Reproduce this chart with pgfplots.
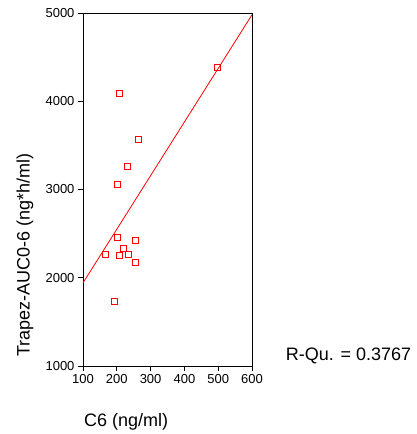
\documentclass[border=0pt]{standalone}
\usepackage{fontspec}
\setmainfont{Liberation Sans}
\usepackage{pgfplots}
\pgfplotsset{compat=1.18}
\begin{document}
\begin{tikzpicture}
\useasboundingbox (-83pt,-68pt) rectangle (333pt,366pt);
\begin{axis}[
  at={(0pt,0pt)}, anchor=south west,
  scale only axis, width=169pt, height=353pt,
  xmin=100, xmax=600, ymin=1000, ymax=5000,
  xtick={100,200,...,600}, ytick={1000,2000,...,5000},
  tick align=outside, tick pos=left, major tick length=5pt,
  axis line style={line width=0.9pt, black},
  every tick/.style={black, line width=0.9pt},
  /pgf/number format/assume math mode=true,
  /pgf/number format/set thousands separator={},
  tick label style={font=\fontsize{13}{15}\selectfont},
  clip=false,
]
% observed C6 vs AUC values
\addplot[only marks, mark=square, red, mark size=3pt,
  mark options={line width=0.8pt}] table {
x y
498 4383
208 4087
264 3565
230 3259
202 3059
201 2453
255 2427
219 2333
167 2268
208 2253
233 2268
255 2174
194 1731
};
% linear fit
\addplot[red, line width=0.8pt] coordinates {(100,1942) (600,4980)};
\end{axis}
\node[rotate=90, font=\fontsize{18}{20}\selectfont] at (-58pt,111pt) {Trapez-AUC0-6 (ng*h/ml)};
\node[anchor=west, inner sep=0pt, font=\fontsize{18}{20}\selectfont] at (1pt,-55.7pt) {C6 (ng/ml)};
\node[anchor=west, inner sep=0pt, font=\fontsize{18}{20}\selectfont] at (202.7pt,10pt) {R-Qu. = 0.3767};
\end{tikzpicture}
\end{document}
